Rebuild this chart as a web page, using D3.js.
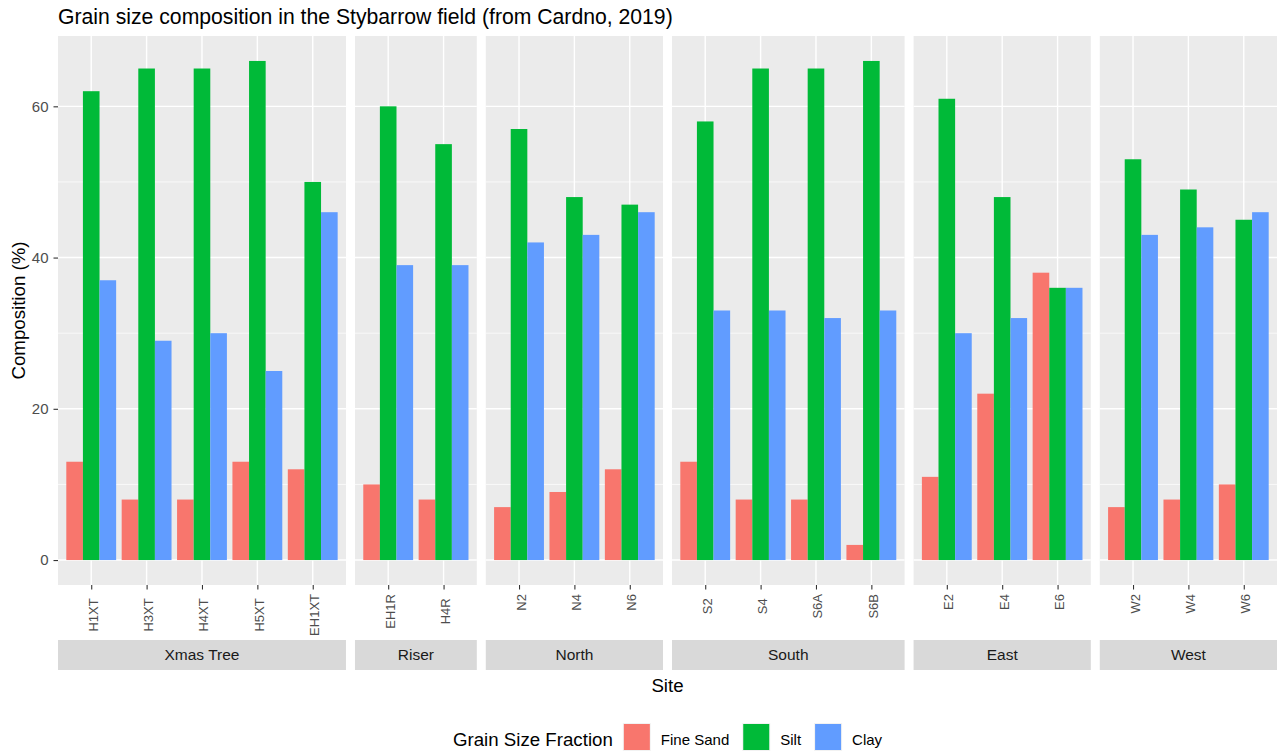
<!DOCTYPE html>
<html>
<head>
<meta charset="utf-8">
<script src="https://cdn.jsdelivr.net/npm/d3@7"></script>
<style>
  html, body { margin: 0; padding: 0; background: #fff; }
  svg { display: block; font-family: "Liberation Sans", Arial, sans-serif; }
</style>
</head>
<body>
<svg id="chart" width="1277" height="755"></svg>
<script>
// ---- data -------------------------------------------------------------
const groups = ["Xmas Tree", "Riser", "North", "South", "East", "West"];
const sites = ["H1XT", "H3XT", "H4XT", "H5XT", "EH1XT",
               "EH1R", "H4R",
               "N2", "N4", "N6",
               "S2", "S4", "S6A", "S6B",
               "E2", "E4", "E6",
               "W2", "W4", "W6"];
const siteGroup = ["Xmas Tree", "Xmas Tree", "Xmas Tree", "Xmas Tree", "Xmas Tree",
                   "Riser", "Riser",
                   "North", "North", "North",
                   "South", "South", "South", "South",
                   "East", "East", "East",
                   "West", "West", "West"];
const fineSand = [13, 8, 8, 13, 12, 10, 8, 7, 9, 12, 13, 8, 8, 2, 11, 22, 38, 7, 8, 10];
const silt     = [62, 65, 65, 66, 50, 60, 55, 57, 48, 47, 58, 65, 65, 66, 61, 48, 36, 53, 49, 45];
const clay     = [37, 29, 30, 25, 46, 39, 39, 42, 43, 46, 33, 33, 32, 33, 30, 32, 36, 43, 44, 46];
const fractions = ["Fine Sand", "Silt", "Clay"];
const fractionColors = ["#F8766D", "#00BA38", "#619CFF"];
const yTicks = [0, 20, 40, 60];
const yMinorTicks = [10, 30, 50];

const title = "Grain size composition in the Stybarrow field (from Cardno, 2019)";
const xTitle = "Site";
const yTitle = "Composition (%)";
const legendTitle = "Grain Size Fraction";

// ---- layout -----------------------------------------------------------
const W = 1277, H = 755;
const plotLeft = 58, plotRight = 1277;
const panelTop = 36, panelBottom = 585;
const panelGap = 9;
const stripTop = 640, stripH = 30;
const pad = 0.6; // discrete expansion, in category units

const svg = d3.select("#chart");

const rows = sites.map((s, i) => ({
  site: s, group: siteGroup[i],
  values: [fineSand[i], silt[i], clay[i]]
}));

const yMax = d3.max(rows, r => d3.max(r.values));
const yExp = yMax * 0.05;
const y = d3.scaleLinear().domain([-yExp, yMax + yExp]).range([panelBottom, panelTop]);

// panel widths proportional to each facet's discrete range
const groupSites = groups.map(g => rows.filter(r => r.group === g).map(r => r.site));
const units = groupSites.map(s => s.length - 1 + 2 * pad);
const totalUnits = d3.sum(units);
const unitPx = (plotRight - plotLeft - panelGap * (groups.length - 1)) / totalUnits;

let cursor = plotLeft;
const panels = groups.map((g, i) => {
  const w = units[i] * unitPx;
  const p = { group: g, x0: cursor, x1: cursor + w, sites: groupSites[i] };
  cursor += w + panelGap;
  return p;
});

// title
svg.append("text")
  .attr("x", plotLeft).attr("y", 24)
  .attr("font-size", 21.2).attr("fill", "#000")
  .text(title);

const tickFont = 15;
const xTickFont = 13;
const stripFont = 15.5;

panels.forEach((p, pi) => {
  const x = d3.scalePoint().domain(p.sites).range([p.x0, p.x1]).padding(pad);
  const step = x.step();
  const dodge = d3.scaleBand().domain(fractions).range([-0.45 * step, 0.45 * step]).padding(0);

  const g = svg.append("g");
  // panel background
  g.append("rect")
    .attr("x", p.x0).attr("y", panelTop)
    .attr("width", p.x1 - p.x0).attr("height", panelBottom - panelTop)
    .attr("fill", "#EBEBEB");

  // minor horizontal grid
  g.selectAll(".ymin").data(yMinorTicks).join("line")
    .attr("x1", p.x0).attr("x2", p.x1)
    .attr("y1", d => y(d)).attr("y2", d => y(d))
    .attr("stroke", "#fff").attr("stroke-width", 0.7);
  // major horizontal grid
  g.selectAll(".ymaj").data(yTicks).join("line")
    .attr("x1", p.x0).attr("x2", p.x1)
    .attr("y1", d => y(d)).attr("y2", d => y(d))
    .attr("stroke", "#fff").attr("stroke-width", 1.4);
  // major vertical grid
  g.selectAll(".xmaj").data(p.sites).join("line")
    .attr("x1", d => x(d)).attr("x2", d => x(d))
    .attr("y1", panelTop).attr("y2", panelBottom)
    .attr("stroke", "#fff").attr("stroke-width", 1.4);

  // bars
  const siteRows = rows.filter(r => r.group === p.group);
  siteRows.forEach(r => {
    g.selectAll(null).data(fractions).join("rect")
      .attr("x", f => x(r.site) + dodge(f))
      .attr("width", dodge.bandwidth())
      .attr("y", (f, k) => y(r.values[k]))
      .attr("height", (f, k) => y(0) - y(r.values[k]))
      .attr("fill", (f, k) => fractionColors[k]);
  });

  // x axis
  const xAxis = d3.axisBottom(x).tickSize(4.5).tickPadding(0).tickFormat("");
  const ax = svg.append("g").attr("transform", `translate(0,${panelBottom})`).call(xAxis);
  ax.select(".domain").remove();
  ax.selectAll(".tick line").attr("stroke", "#333").attr("stroke-width", 1.1);

  // rotated tick labels, centred within this panel's label band
  const lbls = svg.append("g").selectAll("text").data(p.sites).join("text")
    .attr("font-size", xTickFont).attr("fill", "#4D4D4D")
    .attr("text-anchor", "middle")
    .text(d => d);
  const maxLen = d3.max(lbls.nodes(), n => n.getComputedTextLength());
  const cy = 594 + maxLen / 2;
  lbls.attr("transform", d => `translate(${x(d) + 6.5},${cy}) rotate(-90)`);

  // strip
  svg.append("rect")
    .attr("x", p.x0).attr("y", stripTop)
    .attr("width", p.x1 - p.x0).attr("height", stripH)
    .attr("fill", "#D9D9D9");
  svg.append("text")
    .attr("x", (p.x0 + p.x1) / 2).attr("y", stripTop + stripH / 2)
    .attr("dy", "0.35em")
    .attr("text-anchor", "middle")
    .attr("font-size", stripFont).attr("fill", "#1A1A1A")
    .text(p.group);
});

// y axis
const yAxis = d3.axisLeft(y).tickValues(yTicks).tickSize(4.5).tickPadding(5);
const ay = svg.append("g").attr("transform", `translate(${plotLeft},0)`).call(yAxis);
ay.select(".domain").remove();
ay.selectAll(".tick line").attr("stroke", "#333").attr("stroke-width", 1.1);
ay.selectAll(".tick text")
  .attr("font-size", tickFont).attr("fill", "#4D4D4D")
  .attr("font-family", "Liberation Sans, Arial, sans-serif");

// axis titles
const axisTitleSize = 18.7;
svg.append("text")
  .attr("x", (plotLeft + plotRight) / 2).attr("y", 692)
  .attr("text-anchor", "middle")
  .attr("font-size", axisTitleSize).attr("fill", "#000")
  .text(xTitle);
svg.append("text")
  .attr("transform", `translate(25,${(panelTop + panelBottom) / 2}) rotate(-90)`)
  .attr("text-anchor", "middle")
  .attr("font-size", axisTitleSize).attr("fill", "#000")
  .text(yTitle);

// legend, centred under the panels
const lg = svg.append("g");
const keySize = 28, keyTop = 723;
const lt = lg.append("text")
  .attr("x", 0).attr("y", 746)
  .attr("font-size", axisTitleSize).attr("fill", "#000")
  .text(legendTitle);
let lx = lt.node().getComputedTextLength() + 10;
fractions.forEach((f, k) => {
  lg.append("rect")
    .attr("x", lx).attr("y", keyTop)
    .attr("width", keySize).attr("height", keySize)
    .attr("fill", "#F2F2F2");
  lg.append("rect")
    .attr("x", lx + 1).attr("y", keyTop + 1)
    .attr("width", keySize - 2).attr("height", keySize - 2)
    .attr("fill", fractionColors[k]);
  const t = lg.append("text")
    .attr("x", lx + keySize + 10).attr("y", 745)
    .attr("font-size", tickFont).attr("fill", "#000")
    .text(f);
  lx += keySize + 10 + t.node().getComputedTextLength() + 13;
});
const legendW = lx - 13;
lg.attr("transform", `translate(${(plotLeft + plotRight) / 2 - legendW / 2},0)`);
</script>
</body>
</html>
